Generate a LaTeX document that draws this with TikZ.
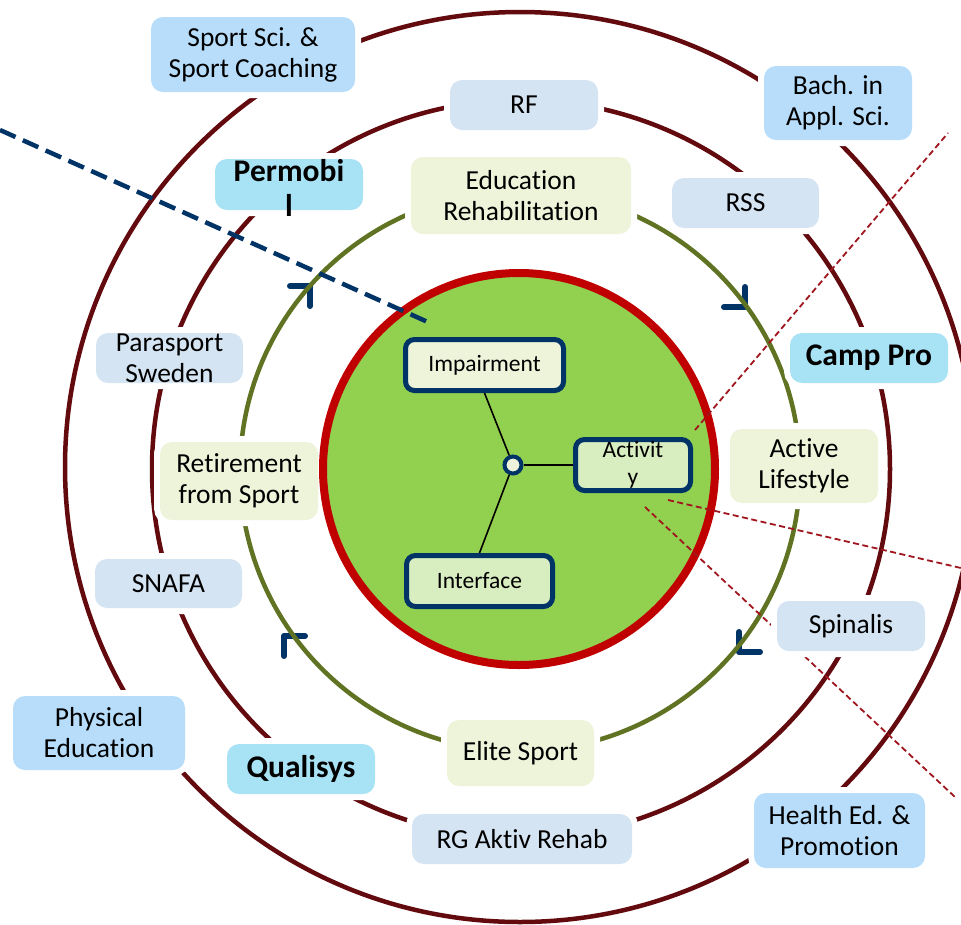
\documentclass[tikz,border=0pt]{standalone}
\usepackage{fontspec}
\setmainfont{Carlito}[Ligatures=NoCommon]
\definecolor{ringmaroon}{RGB}{98,10,14}
\definecolor{ringolive}{RGB}{95,115,35}
\definecolor{corered}{RGB}{192,0,0}
\definecolor{coregreen}{RGB}{146,208,80}
\definecolor{navy}{RGB}{0,51,102}
\definecolor{tracered}{RGB}{160,22,30}
\definecolor{skyfill}{RGB}{183,221,250}
\definecolor{steelfill}{RGB}{213,228,242}
\definecolor{cyanfill}{RGB}{168,226,245}
\definecolor{creamfill}{RGB}{238,244,218}
\definecolor{leaffill}{RGB}{216,237,192}
\tikzset{
  ring/.style={line width=4.5pt},
  tag/.style={rounded corners=12pt, inner sep=0pt, draw=none,
    preaction={draw=white, line width=12pt}},
  skybox/.style={tag, fill=skyfill},
  steelbox/.style={tag, fill=steelfill},
  cyanbox/.style={tag, fill=cyanfill},
  creambox/.style={tag, fill=creamfill},
  lbl/.style={align=center, inner sep=0pt, font=\fontsize{27.5}{31}\selectfont},
  boldlbl/.style={align=center, inner sep=0pt, font=\fontsize{31.5}{35}\selectfont\bfseries},
  corebox/.style={rounded corners=9pt, inner sep=0pt, draw=navy, line width=5pt},
  corelbl/.style={align=center, inner sep=0pt, font=\fontsize{23.5}{27}\selectfont},
  cornermark/.style={draw=navy, line width=6pt, line cap=round, line join=round},
  trace/.style={draw=tracered, line width=1.8pt, dash pattern=on 6pt off 3.5pt},
  link/.style={draw=black, line width=1.6pt}
}
\begin{document}
\begin{tikzpicture}[x=1pt,y=-1pt]
\useasboundingbox (0,0) rectangle (961,924);
\fill[white] (0,0) rectangle (961,924);

% corner marks around the inner ring
\draw[cornermark] (290,286) -- (310,286) -- (310,306);
\draw[cornermark] (745,287) -- (745,307) -- (724,307);
\draw[cornermark] (305,636) -- (284,636) -- (284,656);
\draw[cornermark] (739,632) -- (739,652) -- (760,652);

% concentric rings
\draw[ring, draw=ringmaroon] (520,467) circle [radius=455pt];
\draw[ring, draw=ringmaroon] (521,469) circle [radius=369pt];
\draw[ring, draw=ringolive] (520,471) circle [radius=280pt];

% outer ring labels
\node[skybox, minimum width=204pt, minimum height=75pt] (sport) at (253,54.5) {};
\node[skybox, minimum width=148pt, minimum height=74pt] (bach) at (838,103) {};
\node[skybox, minimum width=172pt, minimum height=74pt] (phys) at (99,733) {};
\node[skybox, minimum width=171pt, minimum height=75pt] (health) at (839.5,830.5) {};

% middle ring labels
\node[steelbox, minimum width=148pt, minimum height=50pt] (rf) at (524,105) {};
\node[steelbox, minimum width=147pt, minimum height=50pt] (rss) at (745.5,203) {};
\node[steelbox, minimum width=147pt, minimum height=50pt] (para) at (169.5,358) {};
\node[steelbox, minimum width=147pt, minimum height=49pt] (snafa) at (168.5,583.5) {};
\node[steelbox, minimum width=220pt, minimum height=50pt] (rg) at (522,839) {};
\node[cyanbox, minimum width=148pt, minimum height=51pt] (permobil) at (289,184.5) {};
\node[cyanbox, minimum width=158pt, minimum height=50pt] (camp) at (869,358) {};
\node[cyanbox, minimum width=148pt, minimum height=50pt] (quali) at (301,769) {};

% inner ring labels
\node[creambox, minimum width=220pt, minimum height=77pt] (edu) at (521,195.5) {};
\node[creambox, minimum width=158pt, minimum height=78pt] (retire) at (239,481) {};
\node[creambox, minimum width=148pt, minimum height=74pt] (active) at (804,466) {};
\node[creambox, minimum width=147pt, minimum height=66pt] (elite) at (520.5,753) {};

% core disc
\draw[draw=corered, fill=coregreen, line width=8pt] (519,469) circle [radius=196pt];

% dashed traces
\coordinate (bl-a) at (0,130);
\coordinate (bl-b) at (430,323);
\draw[draw=navy, line width=4.5pt, dash pattern=on 17pt off 8pt] (bl-a) -- (bl-b);
\coordinate (r1a) at (695,430);
\coordinate (r1b) at (948,133);
\coordinate (r2a) at (668,500);
\coordinate (r2b) at (961,568);
\coordinate (r3a) at (645,507);
\coordinate (r3b) at (955,797);
\draw[trace] (r1a) -- (r1b);
\draw[trace] (r2a) -- (r2b);
\draw[trace] (r3a) -- (r3b);

\node[steelbox, minimum width=148pt, minimum height=50pt] (spin) at (851,626) {};

% label texts
\node[lbl] (sport-t) at (sport) {Sport Sci. \&\\Sport Coaching};
\node[lbl] (bach-t) at (bach) {Bach. in\\Appl. Sci.};
\node[lbl] (phys-t) at (phys) {Physical\\Education};
\node[lbl] (health-t) at (health) {Health Ed. \&\\Promotion};
\node[lbl] (rf-t) at (rf) {RF};
\node[lbl] (rss-t) at (rss) {RSS};
\node[lbl] (para-t) at (para) {Parasport\\Sweden};
\node[lbl] (snafa-t) at (snafa) {SNAFA};
\node[lbl] (rg-t) at (rg) {RG Aktiv Rehab};
\node[lbl] (spin-t) at (spin) {Spinalis};
\node[boldlbl] (permobil-t) at ([yshift=-3pt]permobil) {Permobi\\l};
\node[boldlbl] (camp-t) at (camp) {Camp Pro};
\node[boldlbl] (quali-t) at (quali) {Qualisys};
\node[lbl] (edu-t) at (edu) {Education\\Rehabilitation};
\node[lbl] (retire-t) at (retire) {Retirement\\from Sport};
\node[lbl] (active-t) at (active) {Active\\Lifestyle};
\node[lbl] (elite-t) at (elite) {Elite Sport};

% core model
\node[corebox, fill=creamfill, minimum width=158pt, minimum height=51pt] (imp) at (484.5,365) {};
\node[corebox, fill=leaffill, minimum width=115pt, minimum height=51pt] (act) at (633,465) {};
\node[corebox, fill=leaffill, minimum width=146pt, minimum height=51pt] (int) at (479.5,581) {};
\node[circle, draw=navy, line width=4pt, fill=creamfill, minimum size=17pt, inner sep=0pt] (hub) at (513,465) {};
\draw[link] (hub) -- (imp.south);
\draw[link] (hub) -- (act.west);
\draw[link] (hub) -- (int.north);
\node[corelbl] (imp-t) at (imp) {Impairment};
\node[corelbl] (act-t) at (act) {Activit\\y};
\node[corelbl] (int-t) at (int) {Interface};
\end{tikzpicture}
\end{document}
